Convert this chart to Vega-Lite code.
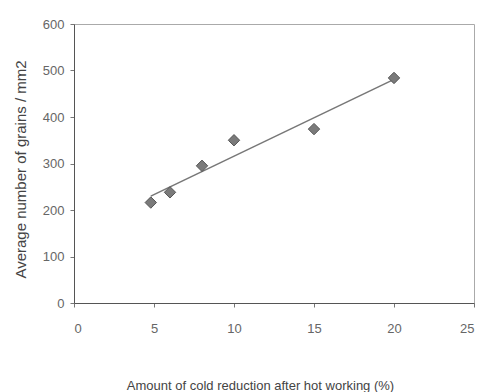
{
  "$schema": "https://vega.github.io/schema/vega-lite/v6.json",
  "width": 400,
  "height": 279,
  "autosize": {"type": "none"},
  "padding": {"left": 74, "top": 24, "right": 9, "bottom": 89},
  "background": "white",
  "config": {
    "font": "Liberation Sans",
    "view": {"stroke": "#aaaaaa", "strokeWidth": 1},
    "axis": {"grid": false, "domainColor": "#555555", "tickColor": "#777777", "labelColor": "#666666", "titleColor": "#444444", "labelFont": "Liberation Sans", "titleFont": "Liberation Sans", "labelFontSize": 13, "titleFontSize": 13, "titleFontWeight": "normal", "tickSize": 4}
  },
  "data": {
    "values": [
      {"reduction": 4.8, "grains": 216},
      {"reduction": 6, "grains": 238},
      {"reduction": 8, "grains": 295},
      {"reduction": 10, "grains": 350},
      {"reduction": 15, "grains": 374},
      {"reduction": 20, "grains": 484}
    ]
  },
  "encoding": {
    "x": {"field": "reduction", "type": "quantitative", "scale": {"domain": [0, 25], "nice": false}, "axis": {"values": [0, 5, 10, 15, 20, 25], "title": "Amount of cold reduction after hot working (%)", "labelPadding": 15, "titlePadding": 44, "titleX": 186}},
    "y": {"field": "grains", "type": "quantitative", "scale": {"domain": [0, 600], "nice": false}, "axis": {"values": [0, 100, 200, 300, 400, 500, 600], "title": "Average number of grains / mm2", "titleFontSize": 15, "labelPadding": 6, "titlePadding": 14, "titleY": 145}}
  },
  "layer": [
    {
      "transform": [{"regression": "grains", "on": "reduction"}],
      "mark": {"type": "line", "color": "#777777", "strokeWidth": 1.5}
    },
    {
      "mark": {"type": "point", "shape": "diamond", "filled": true, "size": 130, "color": "#7a7a7a", "stroke": "#555555", "strokeWidth": 1, "opacity": 1}
    }
  ]
}
